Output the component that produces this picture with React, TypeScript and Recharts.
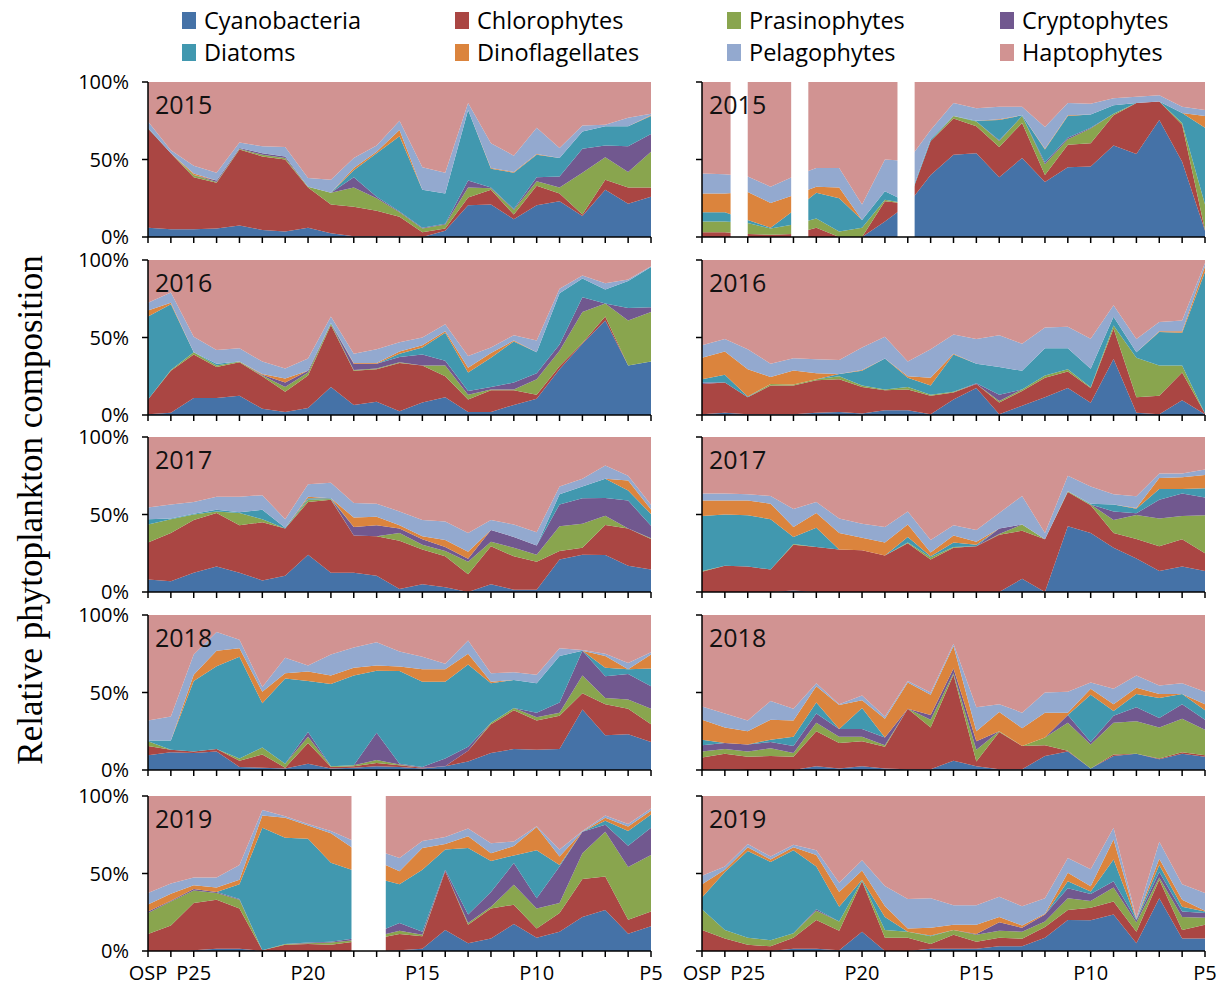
import React from "react"
import { AreaChart, Area, XAxis, YAxis, ReferenceArea } from "recharts"

// Stations along Line P, from Ocean Station Papa to P5
const stations = [
  "OSP", "P26", "P25", "P24", "P23", "P22", "P21", "P20", "P19", "P18", "P17", "P16",
  "P15", "P14", "P13", "P12", "P11", "P10", "P9", "P8", "P7", "P6", "P5",
]
const stationLabels: Record<number, string> = { 0: "OSP", 2: "P25", 7: "P20", 12: "P15", 17: "P10", 22: "P5" }

const groups = [
  "Cyanobacteria", "Chlorophytes", "Prasinophytes", "Cryptophytes",
  "Diatoms", "Dinoflagellates", "Pelagophytes", "Haptophytes",
]
const keys = ["cyano", "chloro", "prasino", "crypto", "diatom", "dino", "pelago", "hapto"]
const colors = ["#4572A7", "#AA4643", "#89A54E", "#71588F", "#4198AF", "#DB843D", "#93A9CF", "#D19392"]

const years = [2015, 2016, 2017, 2018, 2019]

// each row = one station, columns in the order of `groups` (%)
const left2015 = [
  [6, 64, 0, 0, 0.5, 0, 4, 25.5],
  [5, 49, 0, 0, 0, 0, 2, 44],
  [5, 33.5, 1.5, 0, 0, 1, 5, 54],
  [5.5, 29.5, 0.5, 1, 0, 0, 5, 58.5],
  [7.5, 49, 0.5, 0.5, 0, 0, 3.5, 39],
  [4.5, 47.5, 1, 1, 0, 0, 4.5, 41.5],
  [3.5, 46.5, 1, 1, 0, 0, 6, 42],
  [6, 26, 0.5, 0, 0, 0, 5.5, 62],
  [2.5, 18.5, 7.5, 0, 0, 0, 8.5, 63],
  [0.5, 19, 12.5, 6.5, 4.5, 1.5, 6.5, 49],
  [0.5, 16.5, 8, 1, 28, 1, 4, 41],
  [0.5, 12.5, 3, 0.5, 48.5, 4, 6, 25],
  [0, 3, 2.5, 0.5, 24.5, 0, 14.5, 55],
  [4, 1.5, 2.5, 0.5, 19.5, 0, 13.5, 58.5],
  [20.5, 5, 6.5, 4.5, 45.5, 0, 4.5, 13.5],
  [21, 9.5, 1, 0.5, 12, 0.5, 16, 39.5],
  [11.5, 3, 3, 0.5, 23.5, 0.5, 10.5, 47.5],
  [20.5, 12.5, 3, 2.5, 14.5, 0.5, 17, 29.5],
  [23, 5, 4, 7, 12, 0, 6.5, 42.5],
  [13.5, 1, 27, 15.5, 11, 0, 4, 28],
  [30.5, 6.5, 14.5, 7.5, 12.5, 0, 1, 27.5],
  [21.5, 10.5, 10, 16.5, 13, 0, 5.5, 23],
  [26, 6, 23, 11.5, 11.5, 0.5, 1, 20.5],
]
const right2015 = [
  [0, 3, 7, 0, 6, 12, 13, 59],
  [0, 3, 7, 0, 6, 12, 12.5, 59.5],
  [0, 2, 7, 0, 2, 18, 10, 61],
  [0, 1.5, 4, 0, 0.5, 16, 10.5, 67.5],
  [0, 2, 6, 0, 9, 10, 12, 61],
  [0, 6, 6, 0, 16.5, 4, 12, 55.5],
  [0, 0, 3.5, 0, 21.5, 7, 12.5, 55.5],
  [0, 0, 6, 0, 5, 0, 10, 79],
  [10, 13, 1, 0, 5.5, 0, 20.5, 50],
  [21, 0.5, 0, 0, 1, 0, 26.5, 51],
  [40, 22, 0, 0, 1, 0, 6, 31],
  [53, 23.5, 1.5, 0, 0, 0, 8.5, 13.5],
  [54, 17.5, 3, 0, 0.5, 0, 8, 17],
  [38.5, 19.5, 4, 0.5, 13, 0.5, 8, 16],
  [51, 22.5, 4.5, 0, 0.5, 0, 5.5, 16],
  [35.5, 4.5, 7, 1, 8.5, 0.5, 14, 29],
  [45, 14.5, 3.5, 1, 14, 0.5, 8, 13.5],
  [45.5, 15, 9.5, 0.5, 8.5, 0, 7, 14],
  [59, 19.5, 1, 0, 5.5, 0, 4.5, 10.5],
  [53.5, 33, 0, 0, 0, 0, 4, 9.5],
  [75.5, 12, 0, 0, 0, 0, 4, 8.5],
  [48.5, 24, 1, 0, 6.5, 0, 4, 16],
  [4, 0.5, 16.5, 0, 49.5, 7.5, 4, 18],
]
const left2016 = [
  [0.5, 9.5, 0, 0, 53.5, 4, 5, 27.5],
  [1.5, 27, 0.5, 0, 42.5, 1, 6.5, 21],
  [11, 28, 1.5, 0, 0, 0, 10, 49.5],
  [11, 20, 1, 0, 1, 0, 9, 58],
  [12.5, 21.5, 0.5, 0, 0, 0, 8.5, 57],
  [4, 21, 0.5, 0.5, 0, 0.5, 8, 65.5],
  [2, 13, 3, 3, 0, 2.5, 6.5, 70],
  [4.5, 21, 2, 1, 0, 0, 8, 63.5],
  [18, 40, 1, 0, 0.5, 0, 4, 36.5],
  [6.5, 22, 0.5, 4, 0, 0.5, 6, 60.5],
  [8.5, 21, 0.5, 3, 0, 0.5, 9, 57.5],
  [2.5, 31, 0.5, 3.5, 2, 1.5, 6, 53],
  [8, 24, 0, 7, 4.5, 1.5, 5, 50],
  [11.5, 13.5, 7, 3, 18, 1, 4.5, 41.5],
  [2, 8, 3, 2.5, 12, 3, 7.5, 62],
  [2, 14, 0.5, 1.5, 19, 3, 3.5, 56.5],
  [6.5, 9.5, 0.5, 4.5, 26.5, 0.5, 3.5, 48.5],
  [10.5, 2.5, 10, 4, 13.5, 0, 7.5, 52],
  [29.5, 2, 10, 4, 33, 0, 3, 18.5],
  [46, 0.5, 20, 9.5, 12, 0, 2, 10],
  [61, 2.5, 8.5, 0, 9, 0, 4, 15],
  [32, 0, 29, 8, 17.5, 0, 1, 12.5],
  [34.5, 0, 32, 3, 26, 0, 0.5, 4],
]
const right2016 = [
  [0.5, 19.5, 0, 1, 2, 14, 8, 55],
  [1.5, 19.5, 0, 0, 5, 15, 8, 51],
  [0.5, 11, 0, 0, 0.5, 17.5, 13, 57.5],
  [0.5, 18.5, 1, 0, 0, 4.5, 8.5, 67],
  [0.5, 18.5, 0.5, 0, 0, 9, 8, 63],
  [1.5, 21, 0.5, 0, 0, 4, 9, 64],
  [2, 21, 2, 0, 1.5, 0, 9, 64.5],
  [1, 17, 1, 0, 9.5, 0.5, 14.5, 56.5],
  [3, 13, 0.5, 0, 20, 0, 14, 49.5],
  [3, 13.5, 1.5, 0, 6, 1, 9.5, 65.5],
  [0.5, 12, 0.5, 0, 6, 5, 18.5, 57.5],
  [10, 4.5, 0.5, 0, 24, 0.5, 12.5, 48],
  [17.5, 2.5, 0, 0.5, 12.5, 0, 16, 51],
  [0.5, 7.5, 1, 4, 18, 0, 20.5, 48.5],
  [6, 9.5, 1, 0, 12, 0, 17.5, 54],
  [11.5, 12.5, 1.5, 0, 17.5, 0, 13.5, 43.5],
  [17.5, 10.5, 1.5, 0, 13.5, 0, 14, 43],
  [8, 9.5, 0.5, 0, 12, 0, 19.5, 51],
  [36, 19.5, 2, 0, 5.5, 0, 7.5, 29],
  [1.5, 10, 25.5, 0, 3.5, 0, 8.5, 51],
  [0.5, 12, 19.5, 0, 21.5, 0.5, 6, 40],
  [9.5, 18, 4.5, 0, 21, 1, 7, 39],
  [0.5, 0.5, 0, 0, 91.5, 3.5, 2, 2],
]
const left2017 = [
  [8, 24, 11.5, 0, 3.5, 0, 7.5, 45.5],
  [7, 31, 9, 0, 0.5, 0, 9, 43.5],
  [12.5, 34, 3.5, 0, 0.5, 0, 7.5, 42],
  [16.5, 34.5, 1, 0, 1, 0, 8.5, 38.5],
  [12.5, 30.5, 8, 0, 0.5, 0, 10, 38.5],
  [7.5, 37.5, 2, 0, 6, 0, 9.5, 37.5],
  [10.5, 30.5, 0, 0, 0.5, 0, 5.5, 53],
  [24, 34, 1.5, 0, 1, 1, 8, 30.5],
  [12.5, 47, 0.5, 0, 0.5, 0, 10, 29.5],
  [12.5, 24, 0, 5.5, 0, 6, 9.5, 42.5],
  [10.5, 25.5, 0, 7, 0, 5.5, 8.5, 43],
  [2, 31, 5, 3, 0, 2, 9, 48],
  [5, 22.5, 3, 3.5, 0, 2, 10.5, 53.5],
  [3, 20, 3.5, 2.5, 0, 4.5, 12, 54.5],
  [0, 11.5, 8, 2, 0, 4.5, 12, 62],
  [5, 24.5, 3, 7.5, 0, 0, 6.5, 53.5],
  [1.5, 21.5, 5.5, 7, 0, 0, 8, 56.5],
  [1.5, 18, 4.5, 6, 0, 0, 8.5, 61.5],
  [21, 5.5, 16, 14, 6.5, 0, 5, 32],
  [24, 4.5, 15.5, 16.5, 7.5, 0, 5, 27],
  [24, 19.5, 6, 11.5, 12.5, 0, 8.5, 18.5],
  [17, 24, 0, 18, 6.5, 6.5, 3, 25],
  [14.5, 19.5, 0.5, 8, 7.5, 3, 3, 43.5],
]
const right2017 = [
  [0, 13, 0.5, 0, 35.5, 10, 4.5, 36.5],
  [0, 17, 0, 0, 33, 9, 4.5, 36.5],
  [0, 16.5, 0, 0, 33, 9.5, 4, 37],
  [0, 14.5, 0, 0, 32.5, 10, 5, 38],
  [1, 29.5, 0.5, 0, 4.5, 6.5, 11.5, 46.5],
  [0, 29, 0, 0, 12.5, 9.5, 7, 42],
  [0, 27.5, 0, 0, 0, 10.5, 9.5, 52.5],
  [0, 27, 0, 0, 0, 8, 9, 56],
  [0, 23.5, 0, 0, 0, 8.5, 10, 58],
  [0, 31.5, 0.5, 0, 3.5, 8, 8.5, 48],
  [0, 21, 1.5, 0, 0.5, 2.5, 8, 66.5],
  [0, 28.5, 0.5, 0, 3, 4.5, 6.5, 57],
  [0, 29.5, 0, 0, 1, 2, 7.5, 60],
  [0, 37, 0.5, 3.5, 0, 0, 10, 49],
  [8.5, 31, 4, 0, 0, 0, 18.5, 38],
  [0, 34, 0, 0, 0, 0, 4, 62],
  [42.5, 22, 0.5, 0, 0, 0, 10, 25],
  [38, 18, 0.5, 0, 0.5, 0, 11, 32],
  [28.5, 9.5, 8.5, 5.5, 4.5, 0, 6.5, 37],
  [21.5, 12.5, 15.5, 1, 3, 0.5, 7.5, 38],
  [13.5, 16, 18, 12, 7, 7, 3, 23.5],
  [16.5, 17.5, 15, 14.5, 3, 7.5, 2.5, 23.5],
  [13.5, 11.5, 24.5, 11.5, 6, 8.5, 3.5, 21],
]
const left2018 = [
  [9.5, 6, 3, 0, 0.5, 0, 13, 68],
  [11.5, 1.5, 0, 0, 6, 0, 15.5, 65.5],
  [11, 1, 0, 0, 45.5, 4, 13, 25.5],
  [12, 1.5, 0, 0, 53.5, 10, 12, 11],
  [2, 4, 1.5, 0, 65.5, 5.5, 5.5, 16],
  [1.5, 8.5, 4.5, 0, 28.5, 7.5, 3, 46.5],
  [1, 0.5, 2.5, 0, 55, 3.5, 10, 27.5],
  [4, 13.5, 4, 3, 33, 6, 4, 32.5],
  [1, 1, 0.5, 0, 53, 5.5, 13.5, 25.5],
  [1.5, 1, 0.5, 0, 58, 5, 13, 21],
  [2.5, 2, 2, 17.5, 40, 3.5, 15, 17.5],
  [2, 1, 0.5, 0.5, 59.5, 3, 9.5, 23.5],
  [1, 0.5, 0, 0.5, 55, 8, 8, 27],
  [2.5, 0, 0, 5, 49.5, 8, 3.5, 31.5],
  [5.5, 7, 0, 2.5, 53, 7, 8.5, 16.5],
  [11, 18.5, 1, 0, 25.5, 1, 5.5, 37.5],
  [13.5, 25, 1.5, 0, 18, 0, 5, 37],
  [13, 19, 2, 3, 19, 0, 5.5, 38.5],
  [13.5, 21.5, 2, 6.5, 30, 0, 5, 21.5],
  [39, 10.5, 11.5, 16, 0, 0, 0.5, 22.5],
  [22.5, 20, 4, 14, 5.5, 7.5, 1.5, 25],
  [23, 16.5, 6, 16.5, 3, 0, 4, 31],
  [18, 11.5, 10, 14.5, 11.5, 9, 1.5, 24],
]
const right2018 = [
  [0, 8, 4, 4, 3.5, 13, 8.5, 59],
  [0.5, 10, 3, 4, 0, 10, 9, 63.5],
  [0, 8.5, 3.5, 4.5, 0, 8.5, 7, 68],
  [0, 9, 5, 4, 1.5, 13, 12, 55.5],
  [0, 8.5, 2.5, 4.5, 6, 10.5, 7.5, 60.5],
  [2.5, 22.5, 5.5, 6, 7, 10.5, 2, 44],
  [1, 16.5, 4, 5, 0, 15.5, 0.5, 57.5],
  [2.5, 16, 3, 5, 13.5, 5, 3, 52],
  [1, 14, 1, 5, 0, 12, 1.5, 65.5],
  [0.5, 39, 0, 0, 0, 17, 1, 42.5],
  [0.5, 27, 5, 3, 0, 13, 1.5, 50],
  [6, 55.5, 1, 3, 0, 14.5, 1.5, 18.5],
  [2.5, 3, 7.5, 5.5, 0, 6.5, 15.5, 59.5],
  [0.5, 24, 0.5, 0, 0, 12.5, 5, 57.5],
  [0.5, 15, 0, 0, 0, 11.5, 10, 63],
  [9, 7, 5, 0, 0, 16, 13, 50],
  [12, 0.5, 18, 5, 0, 1.5, 13.5, 49.5],
  [1, 0, 15.5, 1.5, 30.5, 4, 4, 43.5],
  [9, 1, 20.5, 4.5, 3, 4.5, 10, 47.5],
  [10.5, 0, 21, 9, 8.5, 4, 8, 39],
  [7, 0.5, 20, 6, 13, 2.5, 5.5, 45.5],
  [10.5, 1, 21.5, 9.5, 6.5, 0, 7, 44],
  [8.5, 1, 16.5, 6.5, 6, 4, 8, 49.5],
]
const left2019 = [
  [0, 11, 13.5, 1, 0, 4.5, 7.5, 62.5],
  [0, 16.5, 15.5, 0.5, 0, 4.5, 6.5, 56.5],
  [0.5, 30.5, 8, 1, 0, 2.5, 5, 52.5],
  [1.5, 31.5, 4.5, 0.5, 0, 3, 6.5, 52.5],
  [1.5, 26, 5.5, 0.5, 9.5, 3, 9.5, 44.5],
  [0, 0.5, 0, 0, 79, 8, 3.5, 9],
  [0, 4, 0.5, 0, 68.5, 13, 1, 13],
  [0, 4.5, 0.5, 0.5, 67, 8.5, 1, 18],
  [0, 4, 1.5, 0.5, 51, 19, 1.5, 22.5],
  [0, 6, 1, 1, 44, 14, 5, 29],
  [0, 8, 1.5, 2.5, 35, 11, 7, 35],
  [0.5, 10.5, 2, 5, 25, 8.5, 8.5, 40],
  [1.5, 8, 1, 2, 40, 14, 4.5, 29],
  [13.5, 38, 0, 1, 13, 3.5, 4.5, 26.5],
  [5, 12, 1, 5.5, 43, 7.5, 5, 21],
  [8, 19.5, 1, 9.5, 20, 5, 6.5, 30.5],
  [17.5, 12.5, 13, 14, 5, 6, 3, 29.5],
  [8.5, 6, 13, 6.5, 31, 15, 0.5, 19.5],
  [12.5, 12, 6.5, 23.5, 1, 5.5, 4.5, 34.5],
  [22, 24.5, 16.5, 14, 0, 0, 0.5, 22.5],
  [26.5, 21.5, 29, 4.5, 2.5, 2, 1.5, 12.5],
  [11, 9, 34, 13.5, 9.5, 3, 1.5, 18],
  [16, 9.5, 36.5, 17.5, 8.5, 2.5, 1.5, 8],
]
const right2019 = [
  [0, 13.5, 13.5, 0, 7.5, 8.5, 5.5, 51.5],
  [0, 8, 5.5, 0, 37.5, 1.5, 2, 45.5],
  [0, 4, 4.5, 0, 56, 2.5, 2, 31],
  [0, 3, 4, 0, 50.5, 1.5, 2, 39],
  [1.5, 7, 3, 0, 53.5, 2, 1.5, 31.5],
  [1.5, 18.5, 6, 1, 27.5, 7.5, 3, 35],
  [0.5, 12.5, 6, 0, 9.5, 9.5, 6, 56],
  [12.5, 32.5, 0.5, 0, 0.5, 6, 6.5, 41.5],
  [0, 8.5, 5, 0, 8.5, 7, 13, 58],
  [0, 8.5, 4, 0, 0, 2, 19, 66.5],
  [1.5, 3, 5, 0, 0.5, 5, 19, 66],
  [1.5, 9, 3, 0, 0, 3.5, 12.5, 70.5],
  [1.5, 4.5, 4.5, 0.5, 0, 6, 12.5, 70.5],
  [3, 5.5, 4.5, 5.5, 0, 3.5, 13, 65],
  [3, 5, 4.5, 2.5, 0, 1.5, 12.5, 71.5],
  [8.5, 7, 3.5, 4.5, 0, 0.5, 10, 66],
  [20, 6.5, 7.5, 6.5, 4.5, 5.5, 9.5, 40],
  [20, 8, 4.5, 4.5, 1.5, 3.5, 11, 47.5],
  [23.5, 8.5, 9, 4, 14, 13, 7.5, 20.5],
  [5, 7.5, 6, 1.5, 0.5, 0, 1, 79],
  [34, 12, 1.5, 3.5, 4.5, 4, 11, 29.5],
  [8, 5.5, 8.5, 3.5, 3, 4.5, 10, 57],
  [8, 9, 4.5, 3, 1, 0.5, 11.5, 62.5],
]

const leftPanels = [left2015, left2016, left2017, left2018, left2019]
const rightPanels = [right2015, right2016, right2017, right2018, right2019]

// stations without samples, blanked out (station index range)
const leftGaps: number[][][] = [[], [], [], [], [[8.9, 10.4]]]
const rightGaps: number[][][] = [[[1.25, 2.0], [3.9, 4.65], [8.55, 9.3]], [], [], [], []]

const ROW_TOPS = [82, 260, 437, 615, 796]
const PLOT_H = 155
const AXIS_W = 90
const RIGHT_PAD = 20
const CHART_W = AXIS_W + 503 + RIGHT_PAD
const TOP_PAD = 16
const FONT = "'Open Sans', sans-serif"

const stationIdx = stations.map((_, i) => i)

function toRows(rows: number[][]) {
  return rows.map((r, i) => {
    const row: Record<string, number | string> = { x: i, station: stations[i] }
    keys.forEach((k, j) => {
      row[k] = r[j]
    })
    return row
  })
}

function Panel({ rows, left, top, year, showY, showX, gaps }: {
  rows: number[][]; left: number; top: number; year: number
  showY: boolean; showX: boolean; gaps: number[][]
}) {
  const xh = showX ? 44 : 14
  return (
    <div style={{ position: "absolute", left, top: top - TOP_PAD }}>
      <AreaChart
        width={CHART_W}
        height={TOP_PAD + PLOT_H + xh}
        data={toRows(rows)}
        stackOffset="expand"
        margin={{ top: TOP_PAD, right: RIGHT_PAD, left: 0, bottom: 0 }}
      >
        <XAxis
          type="number"
          dataKey="x"
          domain={[0, 22]}
          ticks={stationIdx}
          interval={0}
          height={xh}
          tickSize={6}
          tickMargin={9}
          tickFormatter={(v) => (showX ? stationLabels[v] ?? "" : "")}
          axisLine={{ stroke: "#000", strokeWidth: 1.5 }}
          tickLine={{ stroke: "#000", strokeWidth: 1.5 }}
          tick={{ fontSize: 20, fill: "#000", fontFamily: FONT }}
        />
        <YAxis
          width={AXIS_W}
          domain={[0, 1]}
          ticks={[0, 0.5, 1]}
          interval={0}
          tickSize={6}
          tickMargin={13}
          tickFormatter={(v) => (showY ? `${Math.round(v * 100)}%` : "")}
          axisLine={{ stroke: "#000", strokeWidth: 1.5 }}
          tickLine={{ stroke: "#000", strokeWidth: 1.5 }}
          tick={{ fontSize: 20, fill: "#000", fontFamily: FONT }}
        />
        {keys.map((k, i) => (
          <Area
            key={k}
            dataKey={k}
            name={groups[i]}
            stackId="1"
            type="linear"
            fill={colors[i]}
            fillOpacity={1}
            stroke="none"
            isAnimationActive={false}
          />
        ))}
        {gaps.map(([a, b], i) => (
          <ReferenceArea key={i} x1={a} x2={b} y1={0} y2={1} fill="#fff" fillOpacity={1} stroke="none" />
        ))}
      </AreaChart>
      <div
        style={{
          position: "absolute", left: AXIS_W + 7, top: TOP_PAD + 10,
          fontFamily: FONT, fontSize: 25, lineHeight: "25px", color: "#111",
        }}
      >
        {year}
      </div>
    </div>
  )
}

const legendX = [182, 455, 727, 1000]
const legendY = [20, 52]

export default function App() {
  return (
    <div style={{ position: "absolute", left: 0, top: 0, width: 1222, height: 992, background: "#fff" }}>
      {groups.map((g, i) => (
        <div
          key={g}
          style={{
            position: "absolute", left: legendX[i % 4], top: legendY[Math.floor(i / 4)] - 14,
            height: 28, display: "flex", alignItems: "center", fontFamily: FONT, fontSize: 23.5, color: "#000",
          }}
        >
          <span style={{ display: "inline-block", width: 14, height: 17, background: colors[i], marginRight: 8 }} />
          {g}
        </div>
      ))}
      <div
        style={{
          position: "absolute", left: 31, top: 510, transform: "translate(-50%, -50%) rotate(-90deg)",
          whiteSpace: "nowrap", fontFamily: "'Liberation Serif', 'Times New Roman', serif", fontSize: 35,
        }}
      >
        Relative phytoplankton composition
      </div>
      {years.map((y, r) => (
        <React.Fragment key={y}>
          <Panel rows={leftPanels[r]} left={148 - AXIS_W} top={ROW_TOPS[r]} year={y} showY showX={r === 4} gaps={leftGaps[r]} />
          <Panel rows={rightPanels[r]} left={702 - AXIS_W} top={ROW_TOPS[r]} year={y} showY={false} showX={r === 4} gaps={rightGaps[r]} />
        </React.Fragment>
      ))}
    </div>
  )
}
